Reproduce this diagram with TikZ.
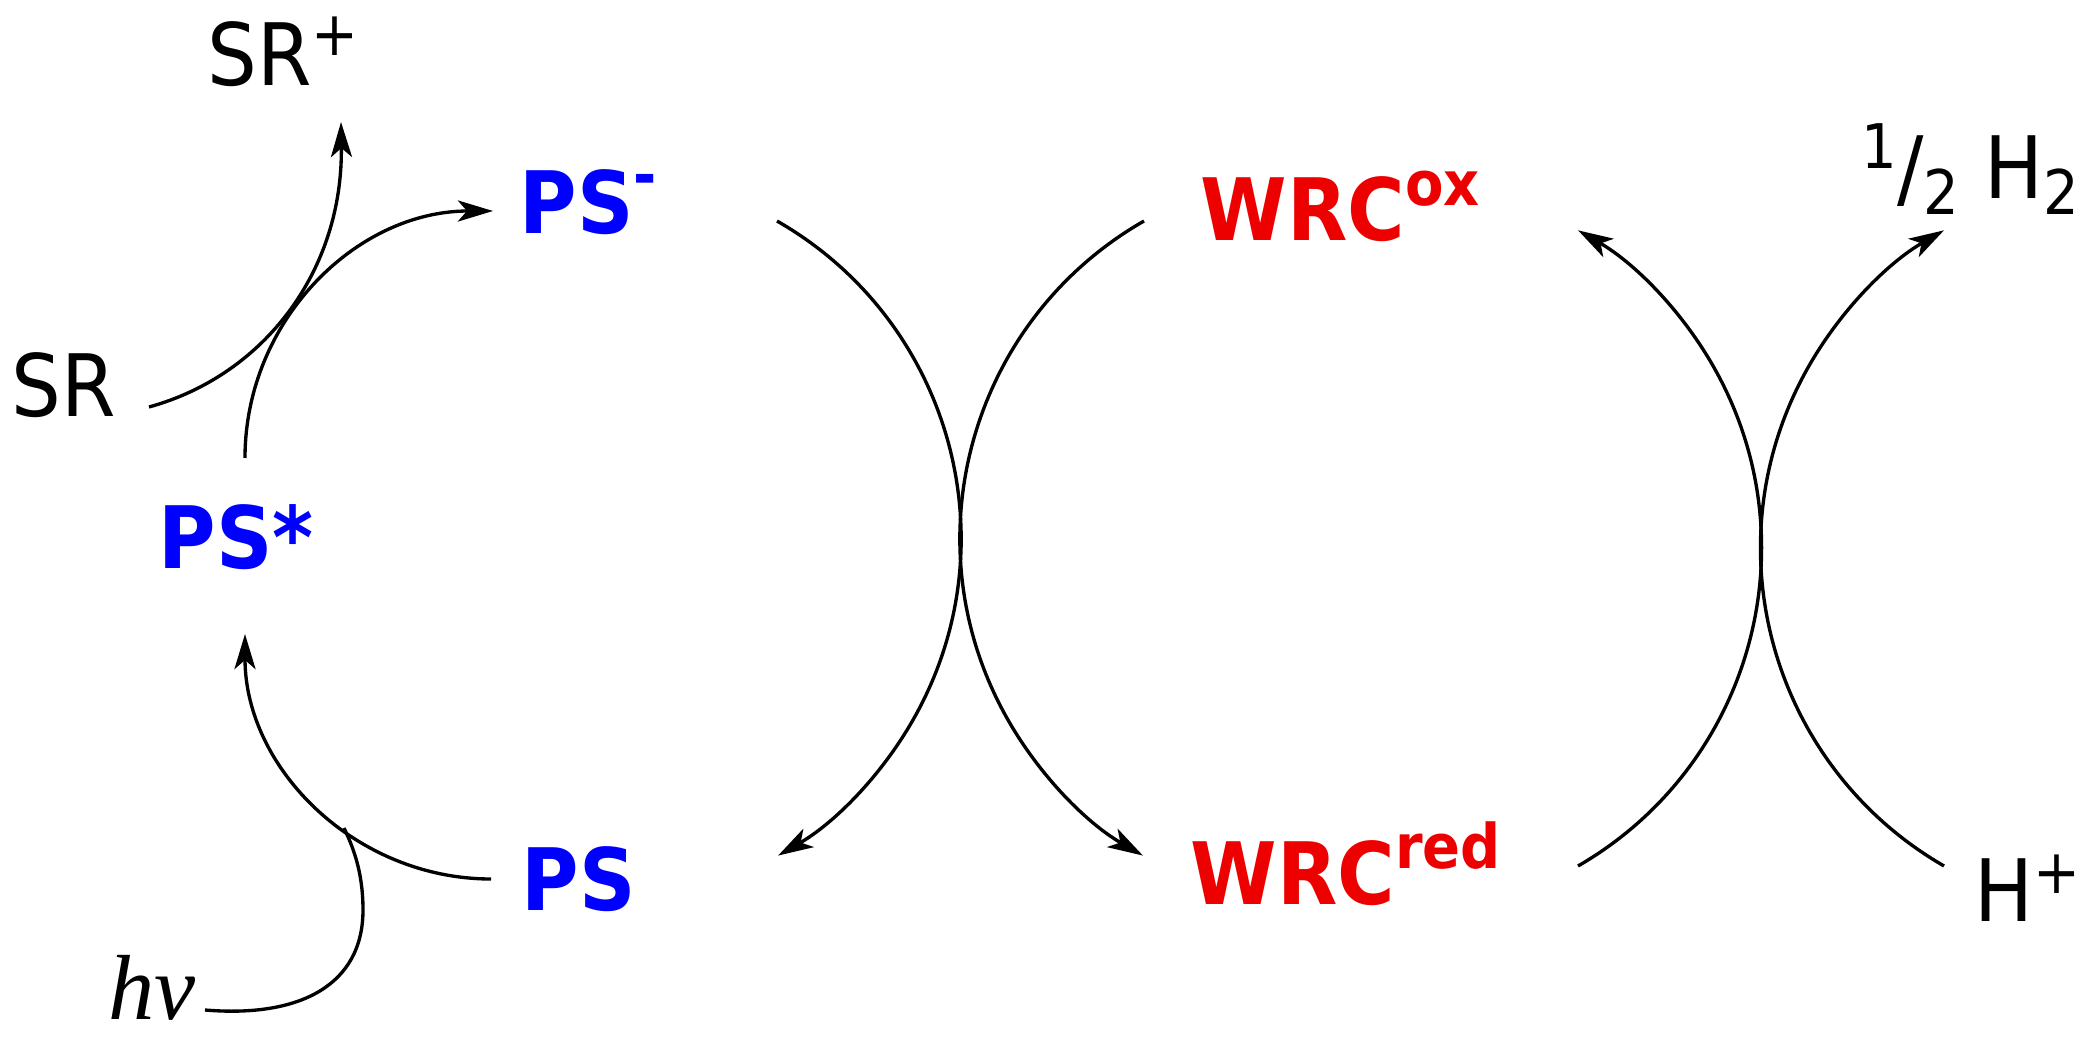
\documentclass[tikz,border=0pt]{standalone}
\usepackage{fontspec}
\setmainfont{DejaVu Sans}[FakeStretch=0.91]
\newfontfamily\hvfont{Liberation Serif}
\usetikzlibrary{arrows.meta}
\definecolor{psblue}{RGB}{0,0,255}
\definecolor{wrcred}{RGB}{237,0,0}
\newcommand{\mainsz}{\fontsize{24.5pt}{29pt}\selectfont}
\newcommand{\supsz}{\fontsize{17.5pt}{20pt}\selectfont}
\newcommand{\supr}[2]{\raisebox{#1}{\supsz #2}}
\begin{document}
\begin{tikzpicture}[x=0.01cm,y=0.01cm,
  lbl/.style={inner sep=0pt, anchor=base west, font=\mainsz},
  ps/.style={lbl, text=psblue, font=\mainsz\bfseries},
  wrc/.style={lbl, text=wrcred, font=\mainsz\bfseries},
  conn/.style={line width=0.95pt, black},
  arr/.style={conn, -{Stealth[length=10pt,width=6pt,inset=2.6pt]}}]
\useasboundingbox (0,0) rectangle (2100,1048);

% labels
\node[lbl] (srp) at (207,962) {SR\supr{0.30cm}{+}};
\node[lbl] (sr) at (11,631) {SR};
\node[ps] (psm) at (519,814) {PS\supr{0.37cm}{-}};
\node[ps] (pss) at (158,479) {PS*};
\node[ps] (ps) at (521,138) {PS};
\node[lbl, font={\hvfont\itshape\fontsize{26.3pt}{30pt}\selectfont}] (hv) at (108,29) {hν};
\node[wrc] (wox) at (1200,807) {WRC\supr{0.35cm}{ox}};
\node[wrc] (wred) at (1190,144) {WRC\supr{0.35cm}{red}};
\node[lbl] (hp) at (1974,127) {H\supr{0.27cm}{+}};
\node[lbl] (htwo) at (1861,849) {\supr{0.30cm}{1}/\supr{-0.15cm}{2} H\supr{-0.15cm}{2}};

% connector end points
\coordinate (srS) at (149,641);
\coordinate (srE) at (341,926);
\coordinate (pssTop) at (245,590);
\coordinate (psmTip) at (493,837);
\coordinate (psEnd) at (491,169);
\coordinate (pssTip) at (245,414);
\coordinate (hvS) at (205,38);
\coordinate (hvJ) at (344,220);
\coordinate (aS) at (777,827);
\coordinate (bS) at (1144,827);
\coordinate (cS) at (1578,182);
\coordinate (dS) at (1944,182);

% left (photosensitizer) part
\draw[arr] (srS) .. controls (265,673) and (343,778) .. (srE);
\draw[arr] (pssTop) .. controls (245,727) and (356,837) .. (psmTip);
\draw[arr] (psEnd) .. controls (356,169) and (245,279) .. (pssTip);
\draw[conn] (hvS) .. controls (300,30) and (363,63) .. (363,138)
            .. controls (363,178) and (352,203) .. (hvJ);

% central cross
\draw[arr] (aS) arc[start angle=60.2, end angle=-60, radius=366];
\draw[arr] (bS) arc[start angle=119.8, end angle=240, radius=366];

% right cross
\draw[arr] (cS) arc[start angle=-60, end angle=60, radius=367];
\draw[arr] (dS) arc[start angle=240, end angle=120, radius=367];
\end{tikzpicture}
\end{document}
